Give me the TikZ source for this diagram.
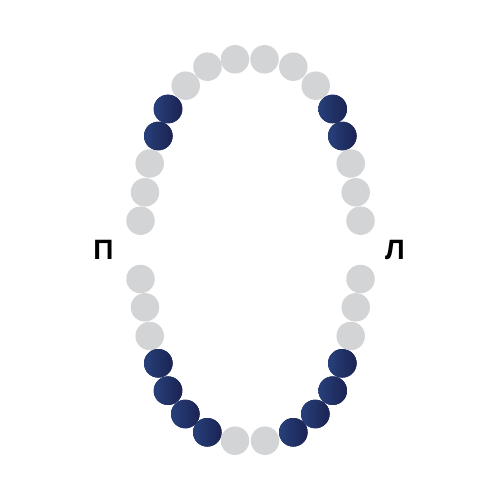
\documentclass[tikz,border=0pt]{standalone}
\usepackage{fontspec}
\setmainfont{Liberation Sans}
\definecolor{tgray}{HTML}{D3D4D6}
\definecolor{navyL}{HTML}{27407A}
\definecolor{navyR}{HTML}{1B2353}
\definecolor{navyM}{HTML}{213261}
\begin{document}
\begin{tikzpicture}[x=1pt,y=-1pt,
  tooth/.style={circle,minimum size=28.5pt,inner sep=0pt,fill=tgray},
  darktooth/.style={circle,minimum size=28.5pt,inner sep=0pt,fill=navyM,
    preaction={fill=navyM},left color=navyL,right color=navyR},
  side/.style={font=\bfseries\fontsize{28}{28}\selectfont,inner sep=0pt}]
\useasboundingbox (0,0) rectangle (500,500);
% upper arch
\node[tooth] (u1) at (140.5,220.7) {};
\node[tooth] (u2) at (145,192.3) {};
\node[tooth] (u3) at (149.7,163.5) {};
\node[darktooth] (u4) at (158.3,136) {};
\node[darktooth] (u5) at (168,109) {};
\node[tooth] (u6) at (185.7,85.7) {};
\node[tooth] (u7) at (207.5,66.7) {};
\node[tooth] (u8) at (235,59.3) {};
\node[tooth] (u9) at (264.5,59.3) {};
\node[tooth] (u10) at (293.3,66.7) {};
\node[tooth] (u11) at (315.7,85.7) {};
\node[darktooth] (u12) at (332.7,109) {};
\node[darktooth] (u13) at (342.3,136) {};
\node[tooth] (u14) at (350.7,163.5) {};
\node[tooth] (u15) at (355.7,192.3) {};
\node[tooth] (u16) at (360.5,220.7) {};
% lower arch
\node[tooth] (l1) at (140.5,279) {};
\node[tooth] (l2) at (145,307.3) {};
\node[tooth] (l3) at (149.7,336) {};
\node[darktooth] (l4) at (158.3,363.3) {};
\node[darktooth] (l5) at (168,390.7) {};
\node[darktooth] (l6) at (185.3,414) {};
\node[darktooth] (l7) at (207.3,432.3) {};
\node[tooth] (l8) at (235,440.7) {};
\node[tooth] (l9) at (265,440.7) {};
\node[darktooth] (l10) at (293.3,432.3) {};
\node[darktooth] (l11) at (315.3,414) {};
\node[darktooth] (l12) at (332.7,390.7) {};
\node[darktooth] (l13) at (342.3,363.3) {};
\node[tooth] (l14) at (350.7,336) {};
\node[tooth] (l15) at (355.7,307.3) {};
\node[tooth] (l16) at (360.5,279) {};
% side labels
\node[side] (right) at (103.5,250) {П};
\node[side] (left) at (395,250) {Л};
\end{tikzpicture}
\end{document}
